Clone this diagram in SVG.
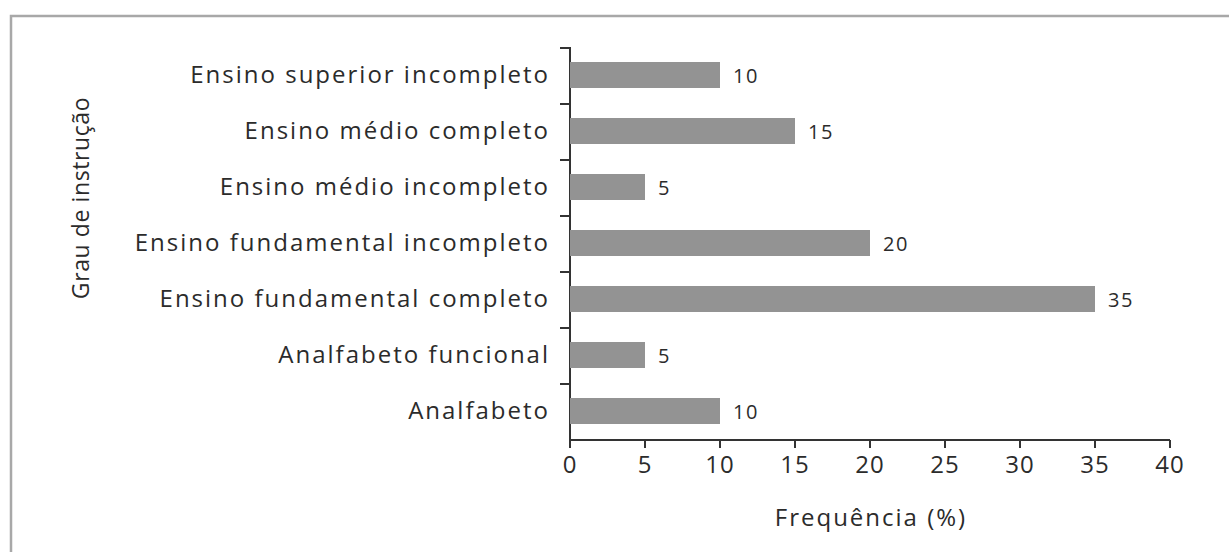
<svg xmlns="http://www.w3.org/2000/svg" width="1229" height="552" viewBox="0 0 1229 552">
<style>
text{font-family:"Open Sans","Noto Sans","Liberation Sans",sans-serif;fill:#2b2b2b;font-size:24px;letter-spacing:2px}
.cat{text-anchor:end}
.tick{text-anchor:middle;font-size:24px;letter-spacing:1px}
.val{font-size:20px;letter-spacing:1.5px}
.bar{fill:#939393}
.ax{stroke:#333;stroke-width:2;fill:none}
</style>
<rect width="1229" height="552" fill="#fff"/>
<path d="M11 552V16H1229" stroke="#a8a8a8" stroke-width="2.5" fill="none"/>
<g id="axes">
<path class="ax" d="M560 48H570V440H1170"/>
<path class="ax" d="M560 104H570M560 160H570M560 216H570M560 272H570M560 328H570M560 384H570"/>
<path class="ax" d="M570 440V448M645 440V448M720 440V448M795 440V448M870 440V448M945 440V448M1020 440V448M1095 440V448M1170 440V448"/>
</g>
<g id="xticks">
<text x="570" y="473" class="tick">0</text>
<text x="645" y="473" class="tick">5</text>
<text x="720" y="473" class="tick">10</text>
<text x="795" y="473" class="tick">15</text>
<text x="870" y="473" class="tick">20</text>
<text x="945" y="473" class="tick">25</text>
<text x="1020" y="473" class="tick">30</text>
<text x="1095" y="473" class="tick">35</text>
<text x="1170" y="473" class="tick">40</text>
</g>
<g id="bar1"><rect class="bar" x="570" y="62" width="150" height="26"/><text class="cat" x="550" y="83">Ensino superior incompleto</text><text class="val" x="733" y="83">10</text></g>
<g id="bar2"><rect class="bar" x="570" y="118" width="225" height="26"/><text class="cat" x="550" y="139">Ensino médio completo</text><text class="val" x="808" y="139">15</text></g>
<g id="bar3"><rect class="bar" x="570" y="174" width="75" height="26"/><text class="cat" x="550" y="195">Ensino médio incompleto</text><text class="val" x="658" y="195">5</text></g>
<g id="bar4"><rect class="bar" x="570" y="230" width="300" height="26"/><text class="cat" x="550" y="251">Ensino fundamental incompleto</text><text class="val" x="883" y="251">20</text></g>
<g id="bar5"><rect class="bar" x="570" y="286" width="525" height="26"/><text class="cat" x="550" y="307">Ensino fundamental completo</text><text class="val" x="1108" y="307">35</text></g>
<g id="bar6"><rect class="bar" x="570" y="342" width="75" height="26"/><text class="cat" x="550" y="363">Analfabeto funcional</text><text class="val" x="658" y="363">5</text></g>
<g id="bar7"><rect class="bar" x="570" y="398" width="150" height="26"/><text class="cat" x="550" y="419">Analfabeto</text><text class="val" x="733" y="419">10</text></g>
<g id="titles">
<text x="871" y="526" text-anchor="middle">Frequência (%)</text>
<text transform="translate(89 198) rotate(-90)" text-anchor="middle" style="font-size:23px;letter-spacing:0.6px">Grau de instrução</text>
</g>
</svg>
